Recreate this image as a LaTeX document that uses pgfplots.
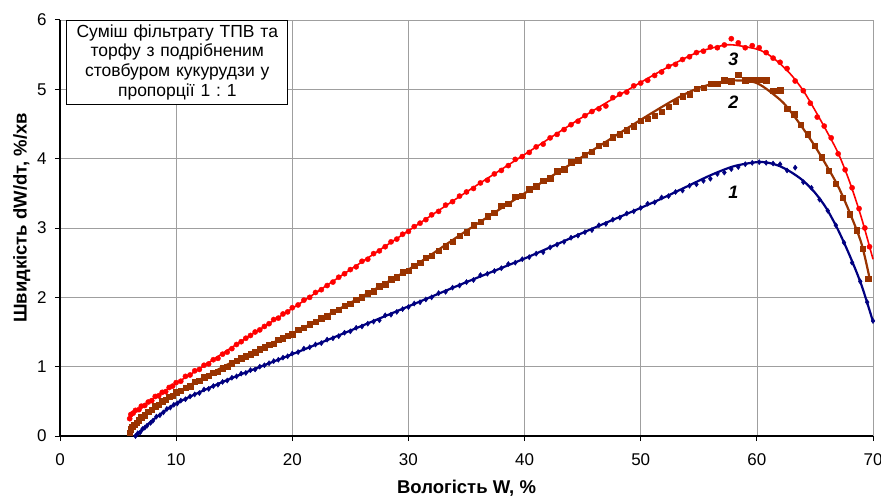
\documentclass[border=0pt]{standalone}
\usepackage{fontspec}
\setmainfont{Liberation Sans}
\usepackage{pgfplots}
\pgfplotsset{compat=1.18}
\definecolor{navyc}{RGB}{0,0,128}
\definecolor{brownc}{RGB}{153,51,0}
\definecolor{redc}{RGB}{255,0,0}
\frenchspacing

\begin{document}
\begin{tikzpicture}
\useasboundingbox (-60pt,-62pt) rectangle (821pt,436pt);
\begin{axis}[
  at={(0pt,0pt)}, anchor=south west,
  scale only axis, width=813pt, height=416pt,
  xmin=0, xmax=70, ymin=0, ymax=6,
  xtick={0,10,...,70}, ytick={0,1,...,6},
  axis x line=bottom, axis y line=left,
  axis line style={-, black, line width=1.8pt},
  grid=major, major grid style={gray!75, line width=0.7pt},
  tick align=outside, major tick length=5pt,
  tick style={black, line width=1pt},
  tick label style={font=\fontsize{17}{20}\selectfont},
  xticklabel style={yshift=-9pt},
  yticklabel style={xshift=-5pt},
  /pgf/number format/assume math mode=true,
  clip=false,
]
% 1 -- markers
\addplot[only marks, mark=diamond*, mark size=2.6pt, color=navyc] coordinates {
(6.5,0.00)(6.7,0.04)(6.9,0.05)(7.1,0.10)(7.3,0.12)(7.5,0.15)(7.8,0.19)(8.0,0.22)
(8.3,0.28)(8.6,0.30)(8.9,0.34)(9.2,0.39)(9.5,0.41)(9.8,0.45)(10.1,0.47)(10.4,0.51)
(10.8,0.53)(11.2,0.57)(11.6,0.60)(12.0,0.62)(12.4,0.67)(12.8,0.68)(13.2,0.72)(13.6,0.74)
(14.0,0.78)(14.4,0.80)(14.8,0.84)(15.2,0.86)(15.6,0.90)(16.0,0.91)(16.4,0.95)(16.8,0.96)
(17.2,1.00)(17.6,1.02)(18.0,1.05)(18.4,1.08)(18.8,1.10)(19.2,1.13)(19.6,1.15)(20.0,1.19)
(20.5,1.21)(21.0,1.26)(21.5,1.28)(22.0,1.32)(22.5,1.34)(23.0,1.39)(23.5,1.41)(24.0,1.44)
(24.5,1.49)(25.0,1.51)(25.5,1.56)(26.0,1.58)(26.5,1.62)(27.0,1.65)(27.5,1.67)(28.0,1.74)
(28.5,1.75)(29.0,1.79)(29.5,1.83)(30.0,1.86)(30.5,1.91)(31.0,1.93)(31.5,1.97)(32.0,2.00)
(32.6,2.06)(33.2,2.08)(33.8,2.14)(34.4,2.17)(35.0,2.22)(35.6,2.25)(36.2,2.32)(36.8,2.34)
(37.4,2.38)(38.0,2.42)(38.6,2.48)(39.2,2.50)(39.8,2.55)(40.4,2.58)(41.0,2.63)(41.6,2.65)
(42.2,2.72)(42.8,2.76)(43.4,2.80)(44.0,2.86)(44.6,2.89)(45.2,2.94)(45.8,2.97)(46.4,3.04)
(47.0,3.06)(47.6,3.12)(48.2,3.15)(48.8,3.21)(49.4,3.24)(50.0,3.29)(50.6,3.35)(51.2,3.37)
(51.8,3.44)(52.4,3.46)(53.0,3.52)(53.6,3.54)(54.2,3.61)(54.8,3.63)(55.4,3.68)(56.0,3.71)
(56.6,3.78)(57.2,3.80)(57.8,3.85)(58.4,3.88)(59.0,3.92)(59.6,3.94)(60.2,3.95)(60.8,3.94)
(61.4,3.93)(62.0,3.92)(62.6,3.83)(63.3,3.87)(64.0,3.66)(64.7,3.58)(65.4,3.41)(66.1,3.25)
(66.8,3.04)(67.5,2.79)(68.2,2.50)(68.9,2.23)(69.5,1.93)(70.0,1.66)
};
% 2 -- markers
\addplot[only marks, mark=square*, mark size=2.7pt, color=brownc] coordinates {
(6.0,0.05)(6.1,0.10)(6.2,0.13)(6.4,0.16)(6.6,0.19)(6.8,0.23)(7.0,0.27)(7.3,0.30)
(7.6,0.35)(7.9,0.38)(8.2,0.43)(8.5,0.45)(8.8,0.50)(9.1,0.52)(9.4,0.57)(9.7,0.58)
(10.0,0.63)(10.4,0.65)(10.8,0.70)(11.2,0.72)(11.6,0.78)(12.0,0.80)(12.4,0.85)(12.8,0.87)
(13.2,0.91)(13.6,0.93)(14.0,0.98)(14.4,1.00)(14.8,1.05)(15.2,1.09)(15.6,1.12)(16.0,1.15)
(16.4,1.18)(16.8,1.21)(17.2,1.25)(17.6,1.28)(18.0,1.32)(18.4,1.33)(18.8,1.39)(19.2,1.41)
(19.6,1.45)(20.0,1.47)(20.5,1.53)(21.0,1.56)(21.5,1.61)(22.0,1.65)(22.5,1.70)(23.0,1.73)
(23.5,1.79)(24.0,1.82)(24.5,1.88)(25.0,1.91)(25.5,1.97)(26.0,2.00)(26.5,2.06)(27.0,2.09)
(27.5,2.16)(28.0,2.19)(28.5,2.26)(29.0,2.29)(29.5,2.36)(30.0,2.38)(30.5,2.46)(31.0,2.50)
(31.5,2.57)(32.0,2.60)(32.6,2.67)(33.2,2.74)(33.8,2.80)(34.4,2.89)(35.0,2.94)(35.6,3.04)
(36.2,3.09)(36.8,3.17)(37.4,3.22)(38.0,3.32)(38.6,3.35)(39.2,3.45)(39.8,3.47)(40.4,3.56)
(41.0,3.60)(41.6,3.68)(42.2,3.72)(42.8,3.82)(43.4,3.85)(44.0,3.95)(44.6,3.98)(45.2,4.06)
(45.8,4.10)(46.4,4.19)(47.0,4.22)(47.6,4.31)(48.2,4.35)(48.8,4.41)(49.4,4.47)(50.0,4.55)
(50.6,4.58)(51.2,4.62)(51.8,4.68)(52.4,4.75)(53.0,4.82)(53.6,4.90)(54.2,4.93)(54.8,5.01)
(55.4,5.02)(56.0,5.08)(56.6,5.08)(57.2,5.13)(57.8,5.12)(58.4,5.21)(59.0,5.13)(59.6,5.14)
(60.2,5.14)(60.8,5.13)(61.4,4.98)(62.0,4.99)(62.6,4.72)(63.2,4.64)(63.8,4.49)(64.4,4.35)
(65.0,4.19)(65.6,4.02)(66.2,3.83)(66.8,3.64)(67.4,3.44)(68.0,3.20)(68.6,2.97)(69.1,2.70)
(69.6,2.27)
};
% 3 -- markers
\addplot[only marks, mark=*, mark size=2.6pt, color=redc] coordinates {
(6.0,0.25)(6.1,0.31)(6.3,0.33)(6.5,0.37)(6.8,0.38)(7.0,0.43)(7.3,0.44)(7.6,0.49)
(7.9,0.51)(8.2,0.57)(8.5,0.58)(8.8,0.63)(9.1,0.64)(9.4,0.70)(9.7,0.72)(10.0,0.77)
(10.4,0.79)(10.8,0.86)(11.2,0.88)(11.6,0.94)(12.0,0.96)(12.4,1.02)(12.8,1.04)(13.2,1.10)
(13.6,1.12)(14.0,1.18)(14.4,1.21)(14.8,1.26)(15.2,1.32)(15.6,1.36)(16.0,1.41)(16.4,1.45)
(16.8,1.50)(17.2,1.53)(17.6,1.58)(18.0,1.62)(18.4,1.68)(18.8,1.70)(19.2,1.76)(19.6,1.79)
(20.0,1.85)(20.5,1.89)(21.0,1.96)(21.5,2.00)(22.0,2.07)(22.5,2.11)(23.0,2.17)(23.5,2.22)
(24.0,2.29)(24.5,2.34)(25.0,2.40)(25.5,2.44)(26.0,2.52)(26.5,2.55)(27.0,2.63)(27.5,2.67)
(28.0,2.73)(28.5,2.80)(29.0,2.84)(29.5,2.91)(30.0,2.95)(30.5,3.02)(31.0,3.07)(31.5,3.12)
(32.0,3.19)(32.6,3.24)(33.2,3.33)(33.8,3.38)(34.4,3.46)(35.0,3.52)(35.6,3.57)(36.2,3.65)
(36.8,3.69)(37.4,3.78)(38.0,3.83)(38.6,3.90)(39.2,3.99)(39.8,4.03)(40.4,4.09)(41.0,4.17)
(41.6,4.21)(42.2,4.30)(42.8,4.35)(43.4,4.42)(44.0,4.49)(44.6,4.54)(45.2,4.62)(45.8,4.68)
(46.4,4.72)(47.0,4.76)(47.6,4.88)(48.2,4.93)(48.8,4.96)(49.4,5.05)(50.0,5.09)(50.6,5.13)
(51.2,5.20)(51.8,5.25)(52.4,5.33)(53.0,5.36)(53.6,5.43)(54.2,5.47)(54.8,5.53)(55.4,5.55)
(56.0,5.61)(56.6,5.60)(57.2,5.64)(57.8,5.73)(58.4,5.67)(59.0,5.60)(59.6,5.63)(60.2,5.60)
(60.8,5.53)(61.4,5.45)(62.0,5.39)(62.6,5.30)(63.3,5.12)(64.0,4.98)(64.6,4.80)(65.2,4.60)
(65.8,4.47)(66.4,4.30)(67.0,4.07)(67.6,3.84)(68.2,3.58)(68.8,3.28)(69.3,3.00)(69.7,2.73)
};
% fitted curves
\addplot[smooth, navyc, line width=2.2pt] coordinates {
(6.5,0.00)(7,0.08)(8,0.23)(9,0.36)(10,0.47)(12,0.63)(15,0.85)(20,1.18)(25,1.52)
(30,1.87)(35,2.22)(40,2.56)(45,2.93)(50,3.29)(52,3.44)(54,3.60)(56,3.76)(58,3.89)
(60,3.95)(61,3.94)(62,3.89)(63,3.80)(64,3.68)(65,3.51)(66,3.28)(67,2.97)(68,2.60)
(69,2.18)(70,1.65)
};
\addplot[smooth, brownc, line width=2.2pt] coordinates {
(6.0,0.05)(6.5,0.17)(7,0.27)(8,0.40)(9,0.52)(10,0.62)(12,0.81)(15,1.08)(20,1.48)
(25,1.92)(30,2.40)(35,2.96)(40,3.50)(45,4.03)(50,4.56)(53,4.86)(55,5.02)(57,5.11)
(58,5.13)(60,5.09)(62,4.85)(63,4.66)(64,4.43)(65,4.18)(66,3.90)(67,3.60)(68,3.22)
(69,2.78)(69.7,2.28)
};
\addplot[smooth, redc, line width=1.6pt] coordinates {
(6.0,0.25)(6.5,0.35)(7,0.42)(8,0.54)(9,0.65)(10,0.76)(12,0.97)(15,1.30)(20,1.84)
(25,2.40)(30,2.96)(35,3.52)(40,4.06)(45,4.60)(50,5.10)(53,5.38)(55,5.54)(57,5.63)
(58,5.64)(60,5.58)(61,5.50)(62,5.37)(63,5.20)(64,4.98)(65,4.70)(66,4.40)(67,4.08)
(68,3.66)(69,3.15)(70,2.55)
};
% curve numbers
\node[font=\bfseries\itshape\fontsize{18}{21}\selectfont] at (axis cs:57.97,5.43) {3};
\node[font=\bfseries\itshape\fontsize{18}{21}\selectfont] at (axis cs:57.97,4.82) {2};
\node[font=\bfseries\itshape\fontsize{18}{21}\selectfont] at (axis cs:57.97,3.52) {1};
% caption box
\node[draw=black, fill=white, line width=0.8pt, anchor=north west, align=center,
  text width=213pt, inner sep=4pt, font=\fontsize{17.5}{19.8}\selectfont]
  at (axis cs:0.55,6) {Суміш фільтрату ТПВ та\\торфу з подрібненим\\стовбуром кукурудзи у\\пропорції 1 : 1};
% axis titles
\node[font=\bfseries\fontsize{18.5}{21}\selectfont] at (axis description cs:0.5,-0.125) {Вологість W, \%};
\node[rotate=90, font=\bfseries\fontsize{18.5}{21}\selectfont] at (axis description cs:-0.047,0.524) {Швидкість dW/dт, \%/хв};
\end{axis}
\end{tikzpicture}
\end{document}
